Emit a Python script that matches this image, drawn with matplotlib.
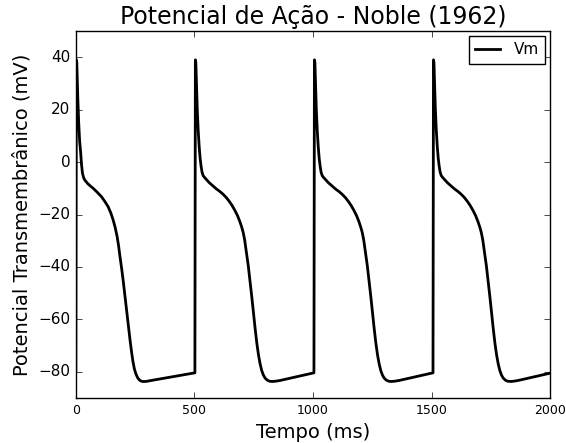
import numpy as np
import matplotlib

matplotlib.use("Agg")
import matplotlib.pyplot as plt

# first beat (from initial conditions), time in ms, Vm in mV
BEAT1_T = [0, 2, 4, 8, 12, 16, 20, 24, 28, 33, 38, 50, 62, 73, 90, 108, 122, 136,
           147, 157, 166, 174, 180, 186, 193, 200, 207, 214, 221, 228, 235, 241,
           247, 254, 262, 270, 280, 295, 313]
BEAT1_V = [-80.0, 39.0, 38.0, 25.0, 15.0, 8.0, 4.0, -1.0, -4.3, -6.0, -6.9, -8.2,
           -9.2, -10.0, -11.5, -13.2, -15.0, -17.0, -19.3, -22.0, -25.0, -28.4,
           -31.8, -36.0, -40.5, -45.5, -51.0, -56.4, -62.0, -67.5, -72.5, -76.2,
           -79.0, -81.0, -82.5, -83.3, -83.7, -83.7, -83.4]

# steady beat, time relative to upstroke onset
BEAT_T = [0, 2, 4, 7, 10, 14, 18, 22, 26, 30, 35, 42, 48, 60, 75, 90, 105, 118,
          132, 145, 157, 169, 180, 190, 198, 204, 210, 215, 220, 225, 230, 235,
          240, 247, 254, 261, 268, 275, 282, 289, 296, 305, 315, 326, 340, 360, 500]
BEAT_V = [-80.4, 39.0, 38.0, 29.0, 20.0, 12.0, 6.0, 1.5, -1.5, -3.8, -5.2, -6.0,
          -6.6, -7.8, -9.0, -10.2, -11.2, -12.2, -13.5, -15.0, -16.6, -18.5, -20.5,
          -22.8, -25.0, -27.0, -29.8, -33.0, -36.0, -39.5, -43.5, -47.5, -51.5,
          -57.5, -63.5, -69.0, -73.5, -77.0, -79.6, -81.3, -82.4, -83.2, -83.6,
          -83.7, -83.6, -83.3, -80.4]

ONSETS = [502, 1004, 1506]

t = list(BEAT1_T)
v = list(BEAT1_V)
for onset in ONSETS:
    t += [onset + x for x in BEAT_T]
    v += BEAT_V
t = np.array(t)
v = np.array(v)

plt.style.use("classic")
fig = plt.figure(figsize=(5.66, 4.43), dpi=100, facecolor="white")
ax = fig.add_axes([0.134, 0.1016, 0.838, 0.8284])

ax.plot(t, v, color="black", linewidth=2, label="Vm")
ax.set_xlim(0, 2000)
ax.set_ylim(-90, 50)
ax.set_xticks([0, 500, 1000, 1500, 2000])
ax.set_yticks([-80, -60, -40, -20, 0, 20, 40])
ax.tick_params(axis="x", labelsize=9)
ax.tick_params(axis="y", labelsize=11)

ax.set_title("Potencial de Ação - Noble (1962)", fontsize=17)
ax.set_xlabel("Tempo (ms)", fontsize=14)
ax.set_ylabel("Potencial Transmembrânico (mV)", fontsize=14)
ax.legend(loc="upper right", fontsize=11, numpoints=1, borderaxespad=0.35,
          handlelength=1.6, handletextpad=0.9, borderpad=0.4)

fig.savefig("out.png", dpi=100, facecolor="white")
